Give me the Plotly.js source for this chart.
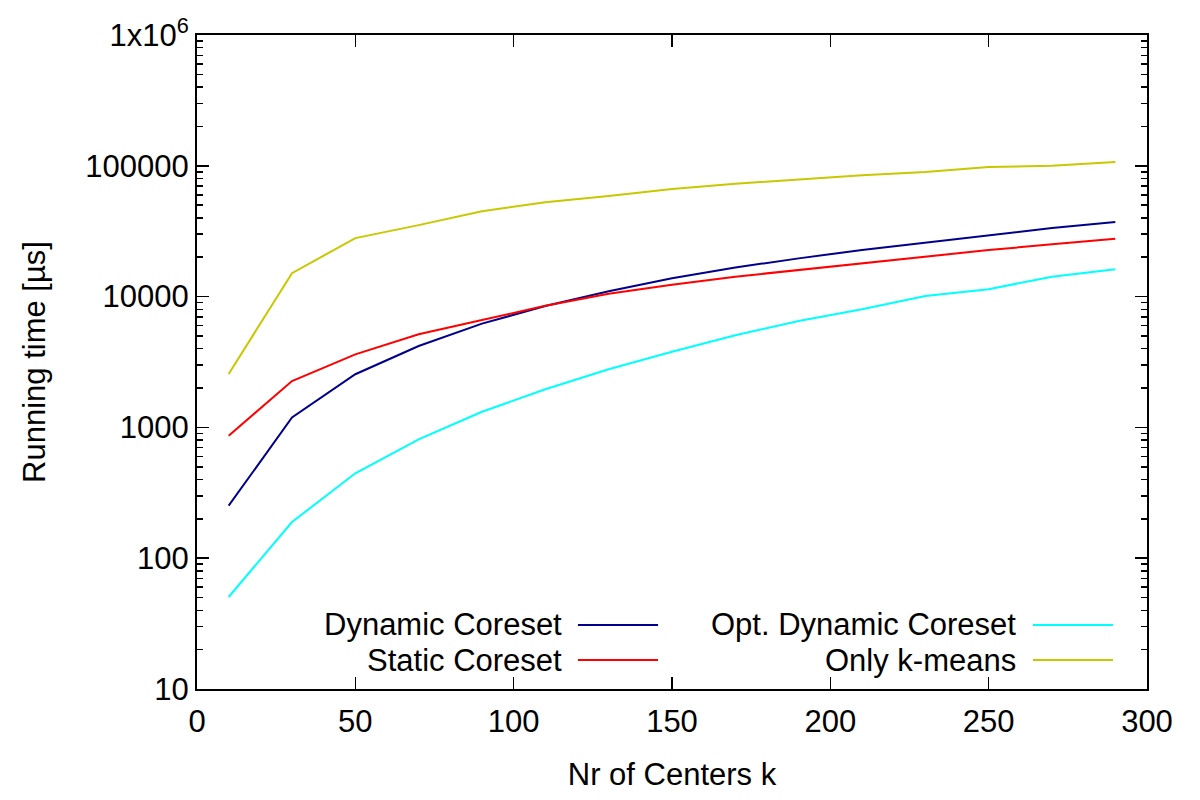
<!DOCTYPE html>
<html>
<head>
<meta charset="utf-8">
<script src="https://cdn.plot.ly/plotly-3.0.1.min.js"></script>
<style>html,body{margin:0;padding:0;background:#fff;}#chart{width:1200px;height:800px;}</style>
</head>
<body>
<div id="chart"></div>
<script>
const centers = [10, 30, 50, 70, 90, 110, 130, 150, 170, 190, 210, 230, 250, 270, 290];
const dynamicCoreset = [252, 1190, 2550, 4190, 6210, 8480, 11000, 13800, 16700, 19600, 22700, 25800, 29400, 33400, 37200];
const staticCoreset = [865, 2260, 3620, 5150, 6620, 8500, 10500, 12300, 14200, 16000, 18000, 20400, 22700, 25100, 27700];
const optDynamicCoreset = [50.5, 189, 446, 811, 1318, 1955, 2780, 3790, 5060, 6510, 8000, 10100, 11400, 14200, 16200];
const onlyKMeans = [2560, 15100, 28000, 35200, 44900, 52600, 58700, 66500, 73000, 78900, 84600, 89700, 97900, 100200, 107000];

const seriesNames = ["Dynamic Coreset", "Static Coreset", "Opt. Dynamic Coreset", "Only k-means"];
const seriesColors = ["#00008b", "#ff0000", "#00ffff", "#c8c800"];
const seriesValues = [dynamicCoreset, staticCoreset, optDynamicCoreset, onlyKMeans];

const yTickVals = [10, 100, 1000, 10000, 100000, 1000000];
const yTickText = ["10", "100", "1000", "10000", "100000", "1x10<sup>6</sup>"];
const xTickVals = [0, 50, 100, 150, 200, 250, 300];

const FONT = "Liberation Sans, Arial, sans-serif";
const FS = 31;

const traces = seriesNames.map((name, i) => ({
  x: centers,
  y: seriesValues[i],
  type: "scatter",
  mode: "lines",
  name: name,
  line: {color: seriesColors[i], width: 2},
  showlegend: false
}));

// Legend drawn gnuplot-style: text to the left of the line sample
const legendPos = [
  {tx: 0.386, sx0: 0.401, sx1: 0.4853, y: 0.0979},
  {tx: 0.386, sx0: 0.401, sx1: 0.4853, y: 0.0443},
  {tx: 0.864, sx0: 0.880, sx1: 0.9642, y: 0.0979},
  {tx: 0.864, sx0: 0.880, sx1: 0.9642, y: 0.0443}
];
const annotations = [];
const shapes = [];
seriesNames.forEach((name, i) => {
  const p = legendPos[i];
  annotations.push({
    xref: "paper", yref: "paper", x: p.tx, y: p.y,
    xanchor: "right", yanchor: "middle", showarrow: false,
    text: name, font: {family: FONT, size: FS, color: "#000"}
  });
  shapes.push({
    type: "line", xref: "paper", yref: "paper",
    x0: p.sx0, x1: p.sx1, y0: p.y, y1: p.y,
    line: {color: seriesColors[i], width: 2}
  });
});

const layout = {
  width: 1200, height: 800,
  margin: {l: 197, r: 53, t: 35, b: 111},
  paper_bgcolor: "#fff", plot_bgcolor: "#fff",
  font: {family: FONT, size: FS, color: "#000"},
  showlegend: false,
  xaxis: {
    range: [0, 300],
    tickmode: "array", tickvals: xTickVals,
    ticks: "inside", ticklen: 12, tickwidth: 1.5, tickcolor: "#000",
    showline: true, linewidth: 2, linecolor: "#000", mirror: "allticks",
    showgrid: false, zeroline: false,
    ticklabelstandoff: 4,
    automargin: true,
    tickfont: {family: FONT, size: FS, color: "#000"},
    title: {text: "Nr of Centers k", standoff: 25, font: {family: FONT, size: FS, color: "#000"}}
  },
  yaxis: {
    type: "log",
    range: [1, 6],
    tickmode: "array", tickvals: yTickVals, ticktext: yTickText,
    ticks: "inside", ticklen: 12, tickwidth: 1.5, tickcolor: "#000",
    minor: {ticks: "inside", ticklen: 6, tickwidth: 1.5, tickcolor: "#000", tickmode: "linear", dtick: "D1", showgrid: false},
    showline: true, linewidth: 2, linecolor: "#000", mirror: "allticks",
    showgrid: false, zeroline: false,
    automargin: true,
    tickfont: {family: FONT, size: FS, color: "#000"},
    title: {text: "Running time [µs]", standoff: 30, font: {family: FONT, size: FS, color: "#000"}}
  },
  annotations: annotations,
  shapes: shapes
};

Plotly.newPlot("chart", traces, layout, {staticPlot: true, displayModeBar: false});
</script>
</body>
</html>
